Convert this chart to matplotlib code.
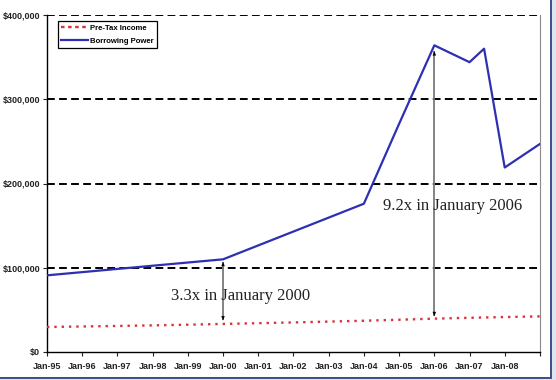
import numpy as np
import pandas as pd
import matplotlib
matplotlib.use("Agg")
import matplotlib.pyplot as plt
from matplotlib.patches import Rectangle
from matplotlib.ticker import FuncFormatter

plt.rcParams.update({"font.family": ["Liberation Sans", "DejaVu Sans"], "font.size": 6.5})

# data
income_dates = pd.to_datetime([f"{y}-01-01" for y in range(1995, 2010)])
income = [29700, 30300, 30900, 31600, 32400, 33300, 34200, 35100, 36100, 37100,
          38300, 39600, 40600, 41500, 42300]
borrow_dates = pd.to_datetime(["1995-01-01", "2000-01-01", "2004-01-01", "2005-01-01", "2006-01-01",
                               "2007-01-01", "2007-06-01", "2008-01-01", "2009-01-01"])
borrow = [91000, 110000, 176000, 271000, 364000, 344000, 360000, 219000, 247000]
tick_years = list(range(1995, 2010))
y_ticks = [0, 100000, 200000, 300000, 400000]
notes = [("2000-01-01", 37500, 107000, "3.3x in January 2000", "1998-07-15", 66500),
         ("2006-01-01", 42500, 357000, "9.2x in January 2006", "2004-07-20", 173500)]

RED = "#d8323a"; BLUE = "#2f2fb4"

fig = plt.figure(figsize=(5.56, 3.80), dpi=100, facecolor="#dfe5ef")
fig.add_artist(Rectangle((-0.01, 2 / 380), 551 / 556 + 0.01, 1.01, transform=fig.transFigure,
                         fc="white", ec="#3b4f86", lw=1.4, zorder=-1))
ax = fig.add_axes([47 / 556, 28 / 380, 493 / 556, 337 / 380])
ax.set_facecolor("white")

for yv in y_ticks[1:]:
    ax.axhline(yv, color="black", lw=1.4, ls=(0, (4, 2.2)), zorder=1)

ax.plot(income_dates, income, color=RED, lw=1.7, ls=(0, (1, 2.1)), label="Pre-Tax Income", zorder=3)
ax.plot(borrow_dates, borrow, color=BLUE, lw=1.6, label="Borrowing Power", zorder=3)

for d, lo, hi, txt, tx, ty in notes:
    d = pd.Timestamp(d)
    ax.vlines(d, lo, hi, color="#7a7a7a", lw=1.3, zorder=2)
    for a, b in ((lo + 6000, lo), (hi - 6000, hi)):
        ax.annotate("", xy=(d, b), xytext=(d, a),
                    arrowprops=dict(arrowstyle="-|>,head_length=0.45,head_width=0.18",
                                    color="black", lw=0.1, shrinkA=0, shrinkB=0), zorder=3)
    ax.text(pd.Timestamp(tx), ty, txt, family=["Liberation Serif", "DejaVu Serif"],
            fontsize=12, color="#222222", ha="left", va="center", zorder=4)

ax.set_xlim(pd.Timestamp("1995-01-01"), pd.Timestamp("2009-01-01"))
ax.set_ylim(0, 400000)
xt = [pd.Timestamp(f"{y}-01-01") for y in tick_years]
ax.set_xticks(xt)
ax.set_xticklabels([t.strftime("%b-%y") if t.year < 2009 else "" for t in xt], fontweight="bold")
ax.set_yticks(y_ticks)
ax.yaxis.set_major_formatter(FuncFormatter(lambda v, p: f"${v:,.0f}"))
for lab in ax.get_yticklabels():
    lab.set_fontweight("bold")
ax.tick_params(axis="both", length=3, width=0.8, colors="#222222", labelsize=6.5)
ax.tick_params(axis="x", pad=4)
ax.tick_params(axis="y", pad=2)
ax.spines["top"].set_visible(False)
ax.spines["right"].set_color("#8a8a8a")
for s in ("left", "bottom"):
    ax.spines[s].set_color("black"); ax.spines[s].set_linewidth(1.0)

leg = ax.legend(loc="upper left", bbox_to_anchor=(0.022, 0.982), fancybox=False, framealpha=1,
                edgecolor="black", prop={"weight": "bold", "size": 5.6}, handlelength=3.4,
                borderpad=0.45, labelspacing=0.65, handletextpad=0.25, borderaxespad=0)
leg.get_frame().set_linewidth(0.9)
leg.get_lines()[0].set_linestyle((0, (1.5, 1.5)))

fig.savefig("out.png", dpi=100, facecolor=fig.get_facecolor())
